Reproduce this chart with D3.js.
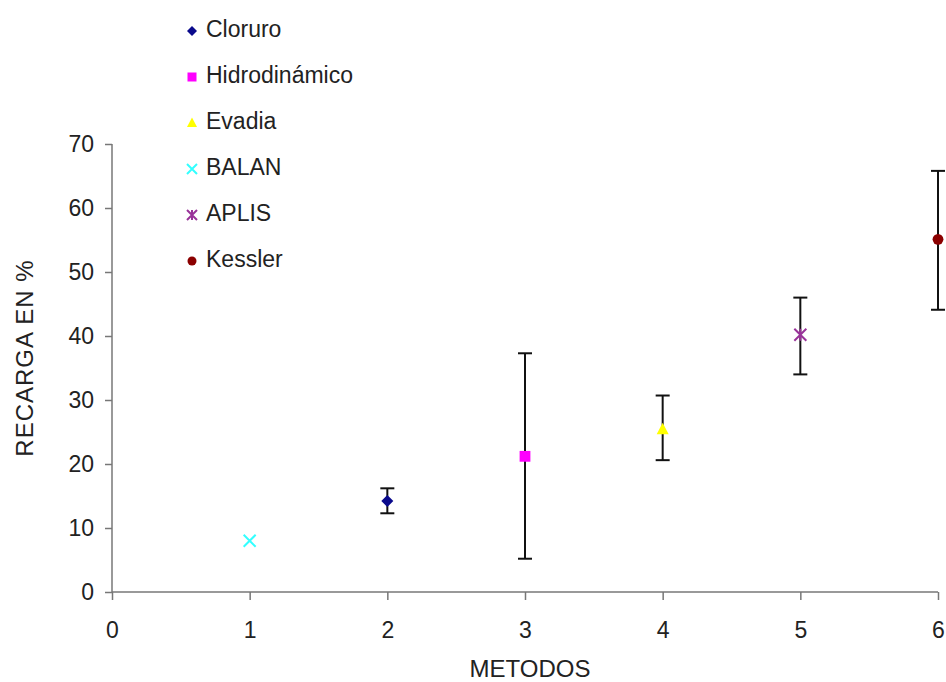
<!DOCTYPE html>
<html>
<head>
<meta charset="utf-8">
<script src="https://cdn.jsdelivr.net/npm/d3@7"></script>
<style>
  body { margin: 0; background: #fff; }
  text { font-family: "Liberation Sans", Arial, sans-serif; fill: #222; }
</style>
</head>
<body>
<div id="plot"></div>
<script>

// Data

  var metodos = ["Cloruro", "Hidrodinámico", "Evadia", "BALAN", "APLIS", "Kessler"];
  var xValues = [2, 3, 4, 1, 5, 6];
  var yValues = [14.2, 21.2, 25.4, 8.0, 40.2, 55.1];
  var lowValues = [12.3, 5.2, 20.6, null, 34.0, 44.1];
  var highValues = [16.2, 37.3, 30.7, null, 46.0, 65.8];
  var colors = ["#0a0a8c", "#ff00ff", "#ffff00", "#33ffff", "#993399", "#8b0000"];
  var shapes = ["diamond", "square", "triangle", "x", "star", "circle"];
  var xTicks = [0, 1, 2, 3, 4, 5, 6];
  var yTicks = [0, 10, 20, 30, 40, 50, 60, 70];

  var w = 946;
  var h = 682;
  var margin = {top: 144, right: 8, bottom: 90, left: 112};
  var innerWidth = w - margin.left - margin.right;
  var innerHeight = h - margin.top - margin.bottom;

  var xScale = d3.scaleLinear()
      .domain([0, 6])
      .range([0, 826]);

  var yScale = d3.scaleLinear()
      .domain([0, 70])
      .range([innerHeight, 0]);

  var xAxis = d3.axisBottom(xScale)
      .tickValues(xTicks)
      .tickSize(8)
      .tickPadding(22)
      .tickFormat(d3.format("d"));

  var yAxis = d3.axisLeft(yScale)
      .tickValues(yTicks)
      .tickSize(7)
      .tickPadding(11)
      .tickFormat(d3.format("d"));

  var svg = d3.select("div#plot")
    .append("svg")
      .attr("width", w)
      .attr("height", h);

  // marker drawing
  function marker(g, shape, color, s) {
      if (shape == "diamond") {
          g.append("path").attr("d", `M0,${-s}L${s},0L0,${s}L${-s},0Z`).attr("fill", color);
      } else if (shape == "square") {
          g.append("rect").attr("x", -s * 0.9).attr("y", -s * 0.9)
              .attr("width", s * 1.8).attr("height", s * 1.8).attr("fill", color);
      } else if (shape == "triangle") {
          g.append("path").attr("d", `M0,${-s * 1.1}L${s},${s * 0.8}L${-s},${s * 0.8}Z`).attr("fill", color);
      } else if (shape == "x") {
          g.append("path").attr("d", `M${-s},${-s}L${s},${s}M${-s},${s}L${s},${-s}`)
              .attr("stroke", color).attr("stroke-width", 2);
      } else if (shape == "star") {
          g.append("path").attr("d", `M${-s},${-s}L${s},${s}M${-s},${s}L${s},${-s}M0,${-s}L0,${s}`)
              .attr("stroke", color).attr("stroke-width", 2);
      } else {
          g.append("circle").attr("r", s * 0.9).attr("fill", color);
      }
  }

  var plot = svg.append("g")
      .attr("transform", `translate (${margin.left}, ${margin.top})`);

// axes

  var gx = plot.append("g")
      .attr("class", "xAxis")
      .attr("transform", `translate (0, ${innerHeight})`)
      .call(xAxis);

  var gy = plot.append("g")
      .attr("class", "yAxis")
      .call(yAxis);

  plot.selectAll(".domain").attr("stroke", "#777").attr("stroke-width", 1.5);
  plot.selectAll(".tick line").attr("stroke", "#777").attr("stroke-width", 1.5);
  plot.selectAll(".tick text").style("font-size", "23px").attr("fill", "#222");
  gx.select(".domain").attr("d", `M0,0H826`);
  gy.select(".domain").attr("d", `M0,${innerHeight}V0`);

// error bars

  var eb = plot.append("g");
  xValues.forEach(function(x, i) {
      if (lowValues[i] == null) return;
      var cx = xScale(x);
      eb.append("line")
          .attr("x1", cx).attr("x2", cx)
          .attr("y1", yScale(lowValues[i])).attr("y2", yScale(highValues[i]))
          .attr("stroke", "#111").attr("stroke-width", 2);
      [lowValues[i], highValues[i]].forEach(function(v) {
          eb.append("line")
              .attr("x1", cx - 7).attr("x2", cx + 7)
              .attr("y1", yScale(v)).attr("y2", yScale(v))
              .attr("stroke", "#111").attr("stroke-width", 2);
      });
  });

// points

  xValues.forEach(function(x, i) {
      var g = plot.append("g")
          .attr("transform", `translate (${xScale(x)}, ${yScale(yValues[i])})`);
      marker(g, shapes[i], colors[i], 6);
  });

// axis titles

  svg.append("text")
      .attr("x", 530)
      .attr("y", 677)
      .attr("text-anchor", "middle")
      .style("font-size", "24px")
      .text("METODOS");

  svg.append("text")
      .attr("transform", "translate (33, 358) rotate(-90)")
      .attr("text-anchor", "middle")
      .style("font-size", "24px")
      .style("letter-spacing", "1px")
      .text("RECARGA EN %");

// legend

  var legend = svg.append("g");
  metodos.forEach(function(m, i) {
      var y = 29 + i * 46;
      var g = legend.append("g").attr("transform", `translate (192, ${y + 2})`);
      marker(g, shapes[i], colors[i], 5);
      legend.append("text")
          .attr("x", 206)
          .attr("y", y + 8)
          .style("font-size", "23px")
          .text(m);
  });

</script>
</body>
</html>
